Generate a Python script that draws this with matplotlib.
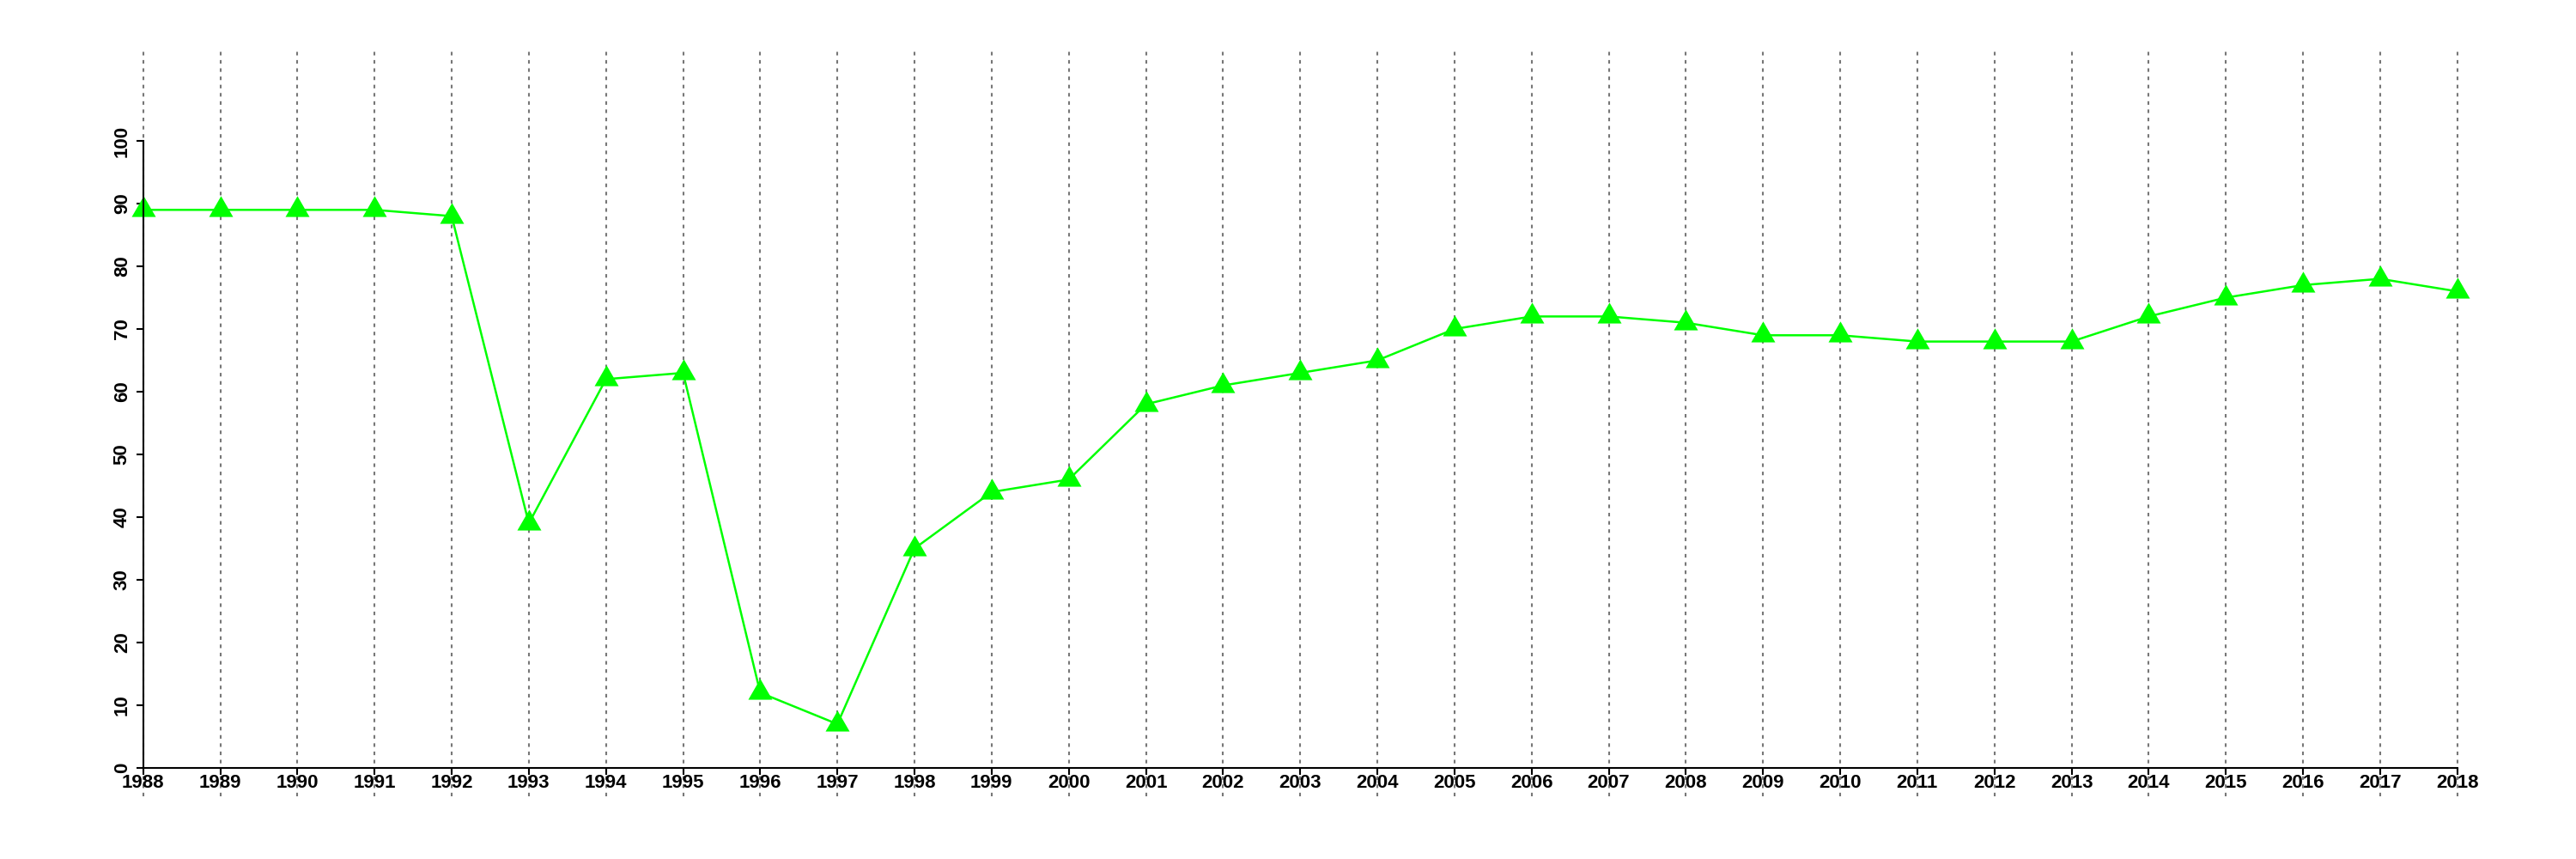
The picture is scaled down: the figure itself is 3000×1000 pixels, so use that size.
import numpy as np
import matplotlib
matplotlib.use("Agg")
from matplotlib import pyplot as plt
from matplotlib.path import Path

# data
years = list(range(1988, 2019))
values = [89, 89, 89, 89, 88, 39, 62, 63, 12, 7, 35, 44, 46, 58, 61, 63,
          65, 70, 72, 72, 71, 69, 69, 68, 68, 68, 72, 75, 77, 78, 76]
y_ticks = list(range(0, 101, 10))

plt.rcParams['font.family'] = ['Liberation Sans', 'DejaVu Sans']
plt.rcParams['font.weight'] = 'bold'

fig = plt.figure(figsize=(30, 10), dpi=100)
# axes placed so that 1988..2018 and 0..100 land where the reference has them
left, right = 166.7 / 3000, 2861.7 / 3000
bottom, top = (1000 - 894) / 1000, (1000 - 164) / 1000
ax = fig.add_axes([left, bottom, right - left, top - bottom])
ax.set_xlim(years[0], years[-1])
ax.set_ylim(0, 100)

# dotted vertical lines, running past the plot area like in R
ext_lo = -(927 - 894) / (894 - 164)
ext_hi = 1 + (164 - 60) / (894 - 164)
for yr in years:
    ax.axvline(yr, ymin=ext_lo, ymax=ext_hi, color='#777777', lw=1.5,
               linestyle=(0, (2, 2.6)), clip_on=False, zorder=1)

# R style filled triangle (pch = 17), centroid on the data point
tri = Path([(-1, -0.577), (1, -0.577), (0, 1.155), (-1, -0.577)],
           [Path.MOVETO, Path.LINETO, Path.LINETO, Path.CLOSEPOLY])
ax.plot(years, values, color='#00ff00', lw=1.8, zorder=3, clip_on=False)
ax.plot(years, values, linestyle='none', marker=tri, markersize=23.3,
        color='#00ff00', markeredgewidth=0, zorder=4, clip_on=False)

for side in ['top', 'right']:
    ax.spines[side].set_visible(False)
for side in ['left', 'bottom']:
    ax.spines[side].set_linewidth(1.5)
    ax.spines[side].set_zorder(5)

ax.set_xticks(years)
ax.set_xticklabels([str(y) for y in years])
ax.set_yticks(y_ticks)
ax.set_yticklabels([str(v) for v in y_ticks], rotation=90, va='center')
ax.tick_params(axis='both', direction='out', length=6, width=1.5,
               labelsize=16)
ax.tick_params(axis='x', pad=-1)
ax.tick_params(axis='y', pad=4)
for lab in ax.get_xticklabels() + ax.get_yticklabels():
    lab.set_fontweight('bold')

fig.savefig("out.png", dpi=100, facecolor='white')
